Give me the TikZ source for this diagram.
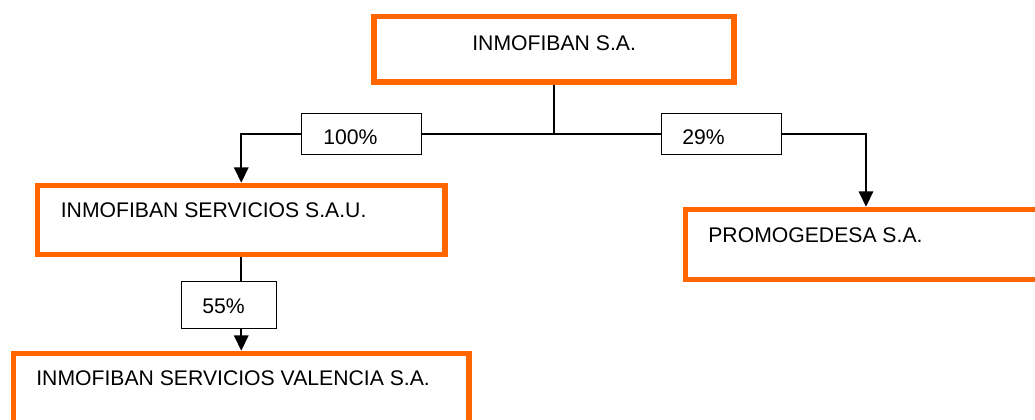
\documentclass[tikz,border=0pt]{standalone}
\usepackage{fontspec}
\setmainfont{Liberation Sans}
\usetikzlibrary{arrows.meta}
\definecolor{boxorange}{HTML}{FF6600}
\begin{document}
\begin{tikzpicture}[x=0.2mm,y=-0.2mm,
    company/.style={draw=boxorange,line width=3.1pt,rectangle,inner sep=0pt},
    share/.style={draw=black,line width=0.9pt,rectangle,inner sep=0pt},
    lbl/.style={anchor=base west,inner sep=0pt,font=\fontsize{12.05}{14}\selectfont},
    link/.style={line width=1pt},
    tip/.style={line width=1pt,-{Triangle[width=2.9mm,length=3.1mm]}}]
        \path [use as bounding box,clip] (0,0) rectangle (1035,419);
        % companies
        \node [company,minimum width=72mm,minimum height=13.1mm] (inmo) at (554,49.25) {};
        \node [company,minimum width=81.5mm,minimum height=13.8mm] (serv) at (241.25,220) {};
        \node [company,minimum width=72.2mm,minimum height=14mm] (promo) at (866,244.5) {};
        \node [company,minimum width=91.1mm,minimum height=14.4mm] (valen) at (241.25,389.5) {};
        \node [lbl] (inmo-t) at (472,50) {INMOFIBAN S.A.};
        \node [lbl] (serv-t) at (60.5,217.5) {INMOFIBAN SERVICIOS S.A.U.};
        \node [lbl] (promo-t) at (708,242) {PROMOGEDESA S.A.};
        \node [lbl] (valen-t) at (36,385) {INMOFIBAN SERVICIOS VALENCIA S.A.};
        % shares
        \node [share,minimum width=24mm,minimum height=8.2mm] (p100) at (361.5,134) {};
        \node [share,minimum width=24mm,minimum height=8.2mm] (p29) at (721.5,134) {};
        \node [share,minimum width=19mm,minimum height=9.4mm] (p55) at (229,305) {};
        \node [lbl] (p100-t) at (323,144) {100\%};
        \node [lbl] (p29-t) at (682,144) {29\%};
        \node [lbl] (p55-t) at (202,313) {55\%};
        % connectors
        \draw [link] (inmo.south) -- (inmo.south |- p100.center) coordinate (split);
        \draw [link] (split) -- (p100.east);
        \draw [link] (split) -- (p29.west);
        \draw [tip] (p100.west) -| (serv.north);
        \draw [tip] (p29.east) -| (promo.north);
        \draw [link] (serv.south) -- (serv.south |- p55.north);
        \draw [tip] (serv.south |- p55.south) -- (valen.north);
    \end{tikzpicture}
\end{document}
